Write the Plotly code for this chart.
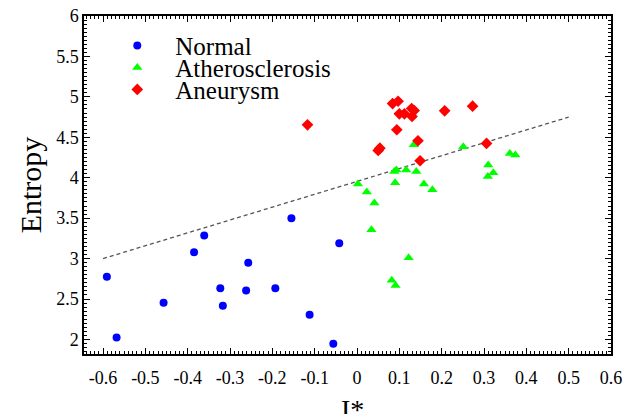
import plotly.graph_objects as go

normal_x = [-0.591, -0.568, -0.457, -0.385, -0.361, -0.323, -0.317, -0.257, -0.262, -0.193, -0.155, -0.112, -0.042, -0.056]
normal_y = [2.774, 2.025, 2.453, 3.078, 3.284, 2.633, 2.416, 2.947, 2.605, 2.633, 3.498, 2.305, 3.189, 1.947]

ather_x = [0.134, 0.251, 0.361, 0.374, 0.310, 0.309, 0.322, 0.088, 0.093, 0.116, 0.140, 0.002, 0.023, 0.041, 0.090, 0.158, 0.178, 0.034, 0.122, 0.082, 0.091]
ather_y = [4.407, 4.383, 4.300, 4.280, 4.157, 4.016, 4.062, 4.078, 4.095, 4.095, 4.078, 3.922, 3.823, 3.688, 3.938, 3.922, 3.852, 3.358, 3.009, 2.732, 2.667]

aneu_x = [-0.117, 0.084, 0.097, 0.100, 0.112, 0.129, 0.135, 0.130, 0.207, 0.273, 0.094, 0.144, 0.050, 0.054, 0.149, 0.306]
aneu_y = [4.654, 4.917, 4.946, 4.790, 4.790, 4.856, 4.830, 4.757, 4.827, 4.885, 4.593, 4.457, 4.337, 4.366, 4.210, 4.424]

fit_x = [-0.6, 0.5]
fit_y = [3.0, 4.75]

x_ticks = [-0.6, -0.5, -0.4, -0.3, -0.2, -0.1, 0, 0.1, 0.2, 0.3, 0.4, 0.5, 0.6]
x_tick_labels = ["-0.6", "-0.5", "-0.4", "-0.3", "-0.2", "-0.1", "0", "0.1", "0.2", "0.3", "0.4", "0.5", "0.6"]
y_ticks = [2, 2.5, 3, 3.5, 4, 4.5, 5, 5.5, 6]
y_tick_labels = ["2", "2.5", "3", "3.5", "4", "4.5", "5", "5.5", "6"]
x_title = "I*"
y_title = "Entropy"

serif = "Liberation Serif, Times New Roman, serif"

fig = go.Figure()
fig.add_trace(go.Scatter(x=fit_x, y=fit_y, mode="lines", showlegend=False,
                         line=dict(color="#555555", width=1.3, dash="4px,3px"), hoverinfo="skip"))
fig.add_trace(go.Scatter(x=normal_x, y=normal_y, mode="markers", name="Normal", legend="legend",
                         marker=dict(symbol="circle", size=8, color="#0000FF")))
fig.add_trace(go.Scatter(x=ather_x, y=ather_y, mode="markers", name="Atherosclerosis", legend="legend2",
                         marker=dict(symbol="triangle-up", size=9, color="#00FF00")))
fig.add_trace(go.Scatter(x=aneu_x, y=aneu_y, mode="markers", name="Aneurysm", legend="legend3",
                         marker=dict(symbol="diamond", size=9, color="#FF0000")))

leg_common = dict(xanchor="left", yanchor="middle", bgcolor="rgba(0,0,0,0)",
                  font=dict(family=serif, size=25, color="black"), itemwidth=66,
                  borderwidth=0, tracegroupgap=0)
fig.update_layout(
    width=625, height=414,
    margin=dict(l=84, r=14, t=16, b=60, autoexpand=False),
    paper_bgcolor="white", plot_bgcolor="white",
    font=dict(family=serif, color="black"),
    legend=dict(x=0.029, y=0.912, **leg_common),
    legend2=dict(x=0.029, y=0.847, **leg_common),
    legend3=dict(x=0.029, y=0.782, **leg_common),
    xaxis=dict(range=[-0.645, 0.6], tickmode="array", tickvals=x_ticks, ticktext=x_tick_labels,
               automargin=False, ticklabeloverflow="allow", ticklabelstandoff=7,
               showgrid=False, zeroline=False, showline=True, linecolor="black", linewidth=1.5,
               mirror="ticks", ticks="inside", ticklen=6, tickwidth=1, tickcolor="black",
               tickfont=dict(family=serif, size=18, color="black"),
               minor=dict(tickmode="linear", tick0=0, dtick=0.01, ticks="inside", ticklen=3,
                          tickwidth=1, tickcolor="black", showgrid=False)),
    yaxis=dict(range=[1.82, 6], tickmode="array", tickvals=y_ticks, ticktext=y_tick_labels,
               automargin=False, ticklabeloverflow="allow", ticklabelstandoff=0,
               showgrid=False, zeroline=False, showline=True, linecolor="black", linewidth=1.5,
               mirror="ticks", ticks="inside", ticklen=6, tickwidth=1, tickcolor="black",
               tickfont=dict(family=serif, size=18, color="black"),
               minor=dict(tickmode="linear", tick0=0, dtick=0.05, ticks="inside", ticklen=3,
                          tickwidth=1, tickcolor="black", showgrid=False),
               title=dict(text=y_title, font=dict(family=serif, size=30, color="black"), standoff=6)),
)
fig.add_annotation(text=x_title, xref="paper", yref="paper", x=0.51, y=-0.112,
                   xanchor="center", yanchor="top", showarrow=False,
                   font=dict(family=serif, size=28, color="black"))
fig.write_html("out.html", config={"displayModeBar": False},
               post_script="document.body.style.margin='0';")
